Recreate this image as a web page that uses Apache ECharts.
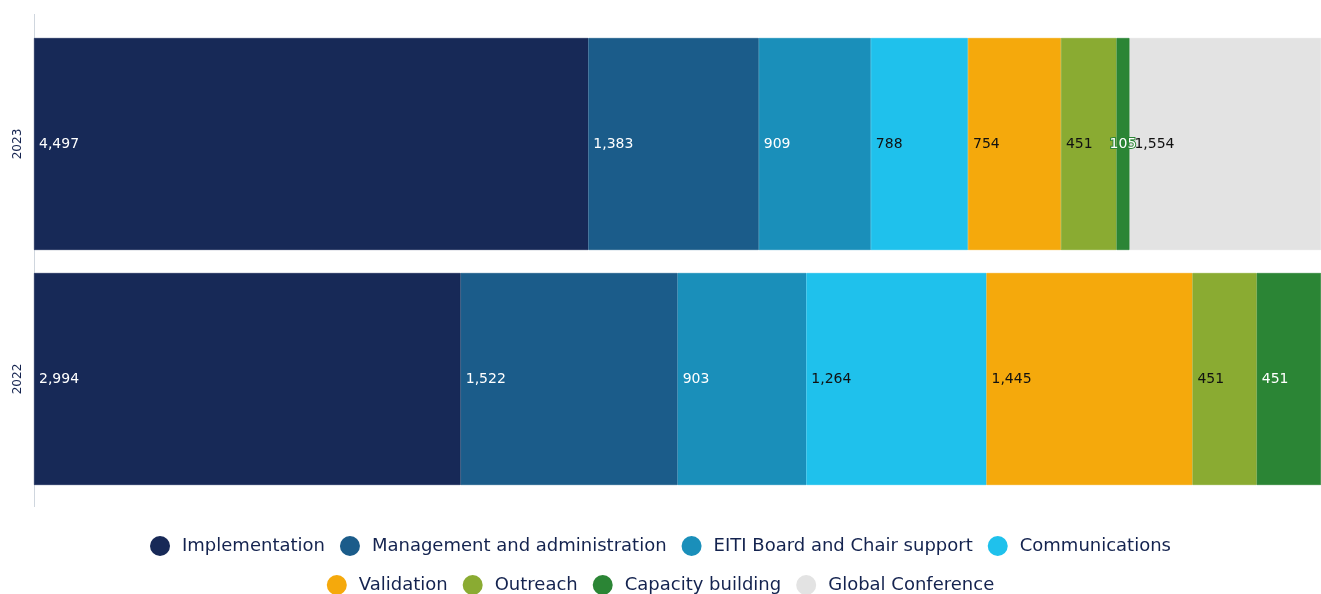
<!DOCTYPE html>
<html><head><meta charset="utf-8">
<script src="https://cdn.jsdelivr.net/npm/echarts@6/dist/echarts.min.js"></script>
<style>html,body{margin:0;padding:0;background:#fff}#c{width:1321px;height:594px}</style>
</head><body><div id="c"></div>
<script>
const years = ['2022', '2023'];
const seriesNames = ['Implementation','Management and administration','EITI Board and Chair support','Communications','Validation','Outreach','Capacity building','Global Conference'];
const implementation = [2994, 4497];
const management = [1522, 1383];
const board = [903, 909];
const communications = [1264, 788];
const validation = [1445, 754];
const outreach = [451, 451];
const capacity = [451, 105];
const globalConf = [null, 1554];

const colors = ['#172957','#1b5c8a','#1a8fba','#1fc1ec','#f5a90c','#8aab32','#2b8535','#e3e3e3'];
const labelColors = ['#fff','#fff','#fff','#111','#111','#111','#fff','#111'];
const allData = [implementation, management, board, communications, validation, outreach, capacity, globalConf];
const totals = years.map((_, i) => allData.reduce((s, a) => s + (a[i] || 0), 0));
const FONT = '"DejaVu Sans", sans-serif';

const series = seriesNames.map((name, k) => ({
  name, type: 'bar', stack: 'all', barCategoryGap: '9.8%',
  z: k === 6 ? 4 : 2,
  itemStyle: { color: colors[k], borderColor: colors[k], borderWidth: 0.6 },
  data: allData[k].map((v, i) => {
    if (v == null) return null;
    const pct = v / totals[i] * 100;
    const d = { value: pct, raw: v };
    if (pct < 2) d.label = { position: 'inside' };
    return d;
  }),
  label: {
    show: true, position: 'insideLeft', distance: 5,
    color: labelColors[k], fontSize: 14, fontFamily: FONT,
    textBorderColor: k === 6 ? colors[6] : 'transparent', textBorderWidth: k === 6 ? 2 : 0,
    formatter: p => p.data && p.data.raw != null ? p.data.raw.toLocaleString('en-US') : ''
  },
  labelLayout: { hideOverlap: false }
}));

const chart = echarts.init(document.getElementById('c'));
chart.setOption({
  animation: false,
  grid: { left: 34, right: 0, top: 26.5, bottom: 97.5, containLabel: false },
  xAxis: { type: 'value', min: 0, max: 100, show: false },
  yAxis: {
    type: 'category', data: years,
    axisLine: { show: false }, axisTick: { show: false },
    axisLabel: { rotate: 90, color: '#14234f', fontSize: 12, fontFamily: FONT, margin: 10 }
  },
  graphic: [{ type: 'line', shape: { x1: 34.5, y1: 14, x2: 34.5, y2: 507 }, style: { stroke: '#cfd6de', lineWidth: 1 }, z: 0 }],
  legend: [
    { data: seriesNames.slice(0, 4), top: 531, left: 'center', icon: 'circle', itemWidth: 20, itemHeight: 20, itemGap: 15,
      itemStyle: { borderWidth: 0 },
      textStyle: { fontSize: 18, color: '#14234f', fontFamily: FONT, padding: [0, 0, 0, 7] } },
    { data: seriesNames.slice(4), top: 570, left: 'center', icon: 'circle', itemWidth: 20, itemHeight: 20, itemGap: 15,
      itemStyle: { borderWidth: 0 },
      textStyle: { fontSize: 18, color: '#14234f', fontFamily: FONT, padding: [0, 0, 0, 7] } }
  ],
  series
});
</script></body></html>
